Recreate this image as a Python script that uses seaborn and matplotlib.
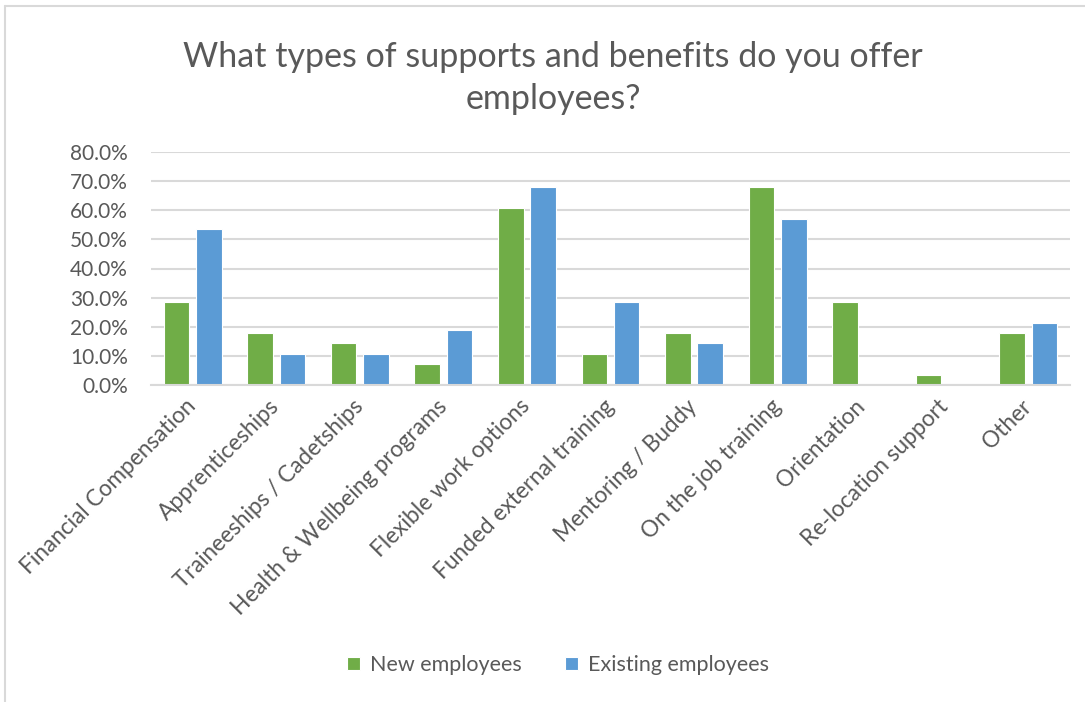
import matplotlib
matplotlib.use("Agg")
import matplotlib.pyplot as plt
from matplotlib.ticker import PercentFormatter, MultipleLocator
from matplotlib.lines import Line2D
import seaborn as sns
import pandas as pd

categories = ["Financial Compensation", "Apprenticeships", "Traineeships / Cadetships",
              "Health & Wellbeing programs", "Flexible work options", "Funded external training",
              "Mentoring / Buddy", "On the job training", "Orientation", "Re-location support", "Other"]
new_employees = [28.6, 17.9, 14.3, 7.1, 60.7, 10.7, 17.9, 67.9, 28.6, 3.6, 17.9]
existing_employees = [53.6, 10.7, 10.7, 18.9, 67.9, 28.6, 14.3, 57.1, 0.0, 0.0, 21.4]
series_names = ["New employees", "Existing employees"]
title = "What types of supports and benefits do you offer\nemployees?"

df = pd.DataFrame({
    "category": categories * 2,
    "value": new_employees + existing_employees,
    "series": [series_names[0]] * len(categories) + [series_names[1]] * len(categories),
})

sns.set_theme(style="white")
plt.rcParams["font.family"] = ["Lato", "DejaVu Sans"]
TXT = "#595959"

fig = plt.figure(figsize=(10.85, 7.02), dpi=100)
ax = fig.add_axes([151/1085, 1-385/702, (1070-151)/1085, (385-152)/702])

sns.barplot(data=df, x="category", y="value", hue="series", hue_order=series_names,
            order=categories, palette=["#70AD47", "#5B9BD5"], width=0.774, gap=0.21,
            edgecolor="white", linewidth=0.8, ax=ax, saturation=1)

ax.set_ylim(0, 80)
ax.yaxis.set_major_locator(MultipleLocator(10))
ax.yaxis.set_major_formatter(PercentFormatter(xmax=100, decimals=1))
ax.grid(axis="y", color="#d9d9d9", linewidth=1.5)
ax.set_axisbelow(True)
for s in ["top", "right", "left"]:
    ax.spines[s].set_visible(False)
ax.spines["bottom"].set_color("#d9d9d9")
ax.spines["bottom"].set_linewidth(1.5)
ax.set_xlabel("")
ax.set_ylabel("")
ax.tick_params(axis="y", length=0, pad=16.5, labelsize=15, labelcolor=TXT)
ax.tick_params(axis="x", length=0, pad=13, labelsize=16.3, labelcolor=TXT)
for lbl in ax.get_xticklabels():
    lbl.set_rotation(45)
    lbl.set_ha("right")
    lbl.set_va("center")
    lbl.set_rotation_mode("anchor")

handles, labels = ax.get_legend_handles_labels()
ax.get_legend().remove()
fig.legend(handles, labels, loc="center", bbox_to_anchor=(558/1085, 1-665/702), ncol=2,
           frameon=False, fontsize=15.5, labelcolor=TXT, handlelength=0.6, handleheight=0.6,
           handletextpad=0.45, columnspacing=2.0)

fig.text(553/1085, 1-78/702, title, ha="center", va="center", fontsize=24.5, color=TXT,
         linespacing=1.4)

fig.add_artist(Line2D([5/1085, 5/1085], [0, 1-6/702], transform=fig.transFigure,
                      color="#d9d9d9", linewidth=1.5))
fig.add_artist(Line2D([5/1085, 1], [1-6/702, 1-6/702], transform=fig.transFigure,
                      color="#d9d9d9", linewidth=1.5))

fig.savefig("out.png", dpi=100, facecolor="white")
